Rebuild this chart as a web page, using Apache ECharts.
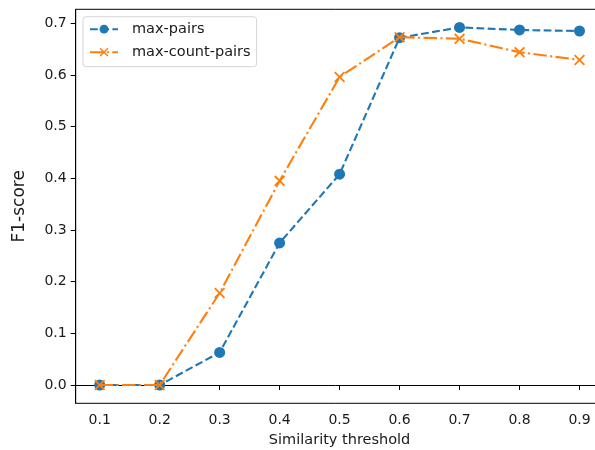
<!DOCTYPE html>
<html>
<head>
<meta charset="utf-8">
<script src="https://cdn.jsdelivr.net/npm/echarts@6/dist/echarts.min.js"></script>
<style>html,body{margin:0;padding:0;background:#fff}#c{width:595px;height:450px}</style>
</head>
<body>
<div id="c"></div>
<script>
var thresholds = [0.1, 0.2, 0.3, 0.4, 0.5, 0.6, 0.7, 0.8, 0.9];
var maxPairs = [0.0, 0.0, 0.063, 0.275, 0.408, 0.672, 0.692, 0.687, 0.685];
var maxCountPairs = [0.0, 0.0, 0.178, 0.395, 0.596, 0.673, 0.670, 0.644, 0.629];
var xTicks = [0.1, 0.2, 0.3, 0.4, 0.5, 0.6, 0.7, 0.8, 0.9];
var yTicks = [0.0, 0.1, 0.2, 0.3, 0.4, 0.5, 0.6, 0.7];
var seriesNames = ['max-pairs', 'max-count-pairs'];

var FONT = 'DejaVu Sans';
var TXT = '#1a1a1a';
var X_PATH = 'path://M0,1.2 L1.2,0 L5,3.8 L8.8,0 L10,1.2 L6.2,5 L10,8.8 L8.8,10 L5,6.2 L1.2,10 L0,8.8 L3.8,5 Z';

function pairs(vals) { return thresholds.map(function (t, i) { return [t, vals[i]]; }); }

var chart = echarts.init(document.getElementById('c'), null, { renderer: 'canvas' });
chart.setOption({
  animation: false,
  backgroundColor: '#fff',
  textStyle: { fontFamily: FONT },
  grid: { left: 75.7, top: 9.3, right: -8.5, bottom: 46.7, containLabel: false, outerBoundsMode: 'none',
          show: true, borderColor: '#000', borderWidth: 1, backgroundColor: 'transparent' },
  legend: {
    left: 83, top: 16.7, orient: 'vertical',
    itemWidth: 28, itemHeight: 11, itemGap: 8,
    padding: [5, 6, 7, 6],
    borderColor: '#d6d6d6', borderWidth: 1, borderRadius: 3, backgroundColor: '#fff',
    textStyle: { fontFamily: FONT, fontSize: 14.5, color: TXT, padding: [0, 0, 0, 9] },
    data: seriesNames
  },
  xAxis: {
    type: 'value', min: 0.06, max: 0.94,
    name: 'Similarity threshold', nameLocation: 'middle', nameGap: 29,
    nameTextStyle: { fontFamily: FONT, fontSize: 14.5, color: TXT },
    splitLine: { show: false },
    axisLine: { show: true, lineStyle: { color: '#000', width: 1 } },
    axisTick: { show: true, length: 5, lineStyle: { color: '#000' }, customValues: xTicks },
    axisLabel: { fontFamily: FONT, fontSize: 14, color: TXT, margin: 10, customValues: xTicks, formatter: function (v) { return v.toFixed(1); } }
  },
  yAxis: {
    type: 'value', min: -0.0354, max: 0.727,
    name: 'F1-score', nameLocation: 'middle', nameGap: 48,
    nameTextStyle: { fontFamily: FONT, fontSize: 17, color: TXT },
    splitLine: { show: false },
    axisLine: { show: true, lineStyle: { color: '#000', width: 1 } },
    axisTick: { show: true, length: 5, lineStyle: { color: '#000' }, customValues: yTicks },
    axisLabel: { fontFamily: FONT, fontSize: 14, color: TXT, margin: 9, customValues: yTicks, formatter: function (v) { return v.toFixed(1); } }
  },
  series: [
    {
      name: seriesNames[0], type: 'line', data: pairs(maxPairs),
      symbol: 'circle', symbolSize: 11, z: 2,
      itemStyle: { color: '#1f77b4' },
      lineStyle: { color: '#1f77b4', width: 2.1, type: [7.8, 3.4] }
    },
    {
      name: seriesNames[1], type: 'line', data: pairs(maxCountPairs),
      symbol: X_PATH, symbolSize: 11, z: 3,
      itemStyle: { color: '#ff7f0e' },
      lineStyle: { color: '#ff7f0e', width: 2.1, type: [13.4, 3.4, 2.1, 3.4] }
    }
  ]
});
</script>
</body>
</html>
